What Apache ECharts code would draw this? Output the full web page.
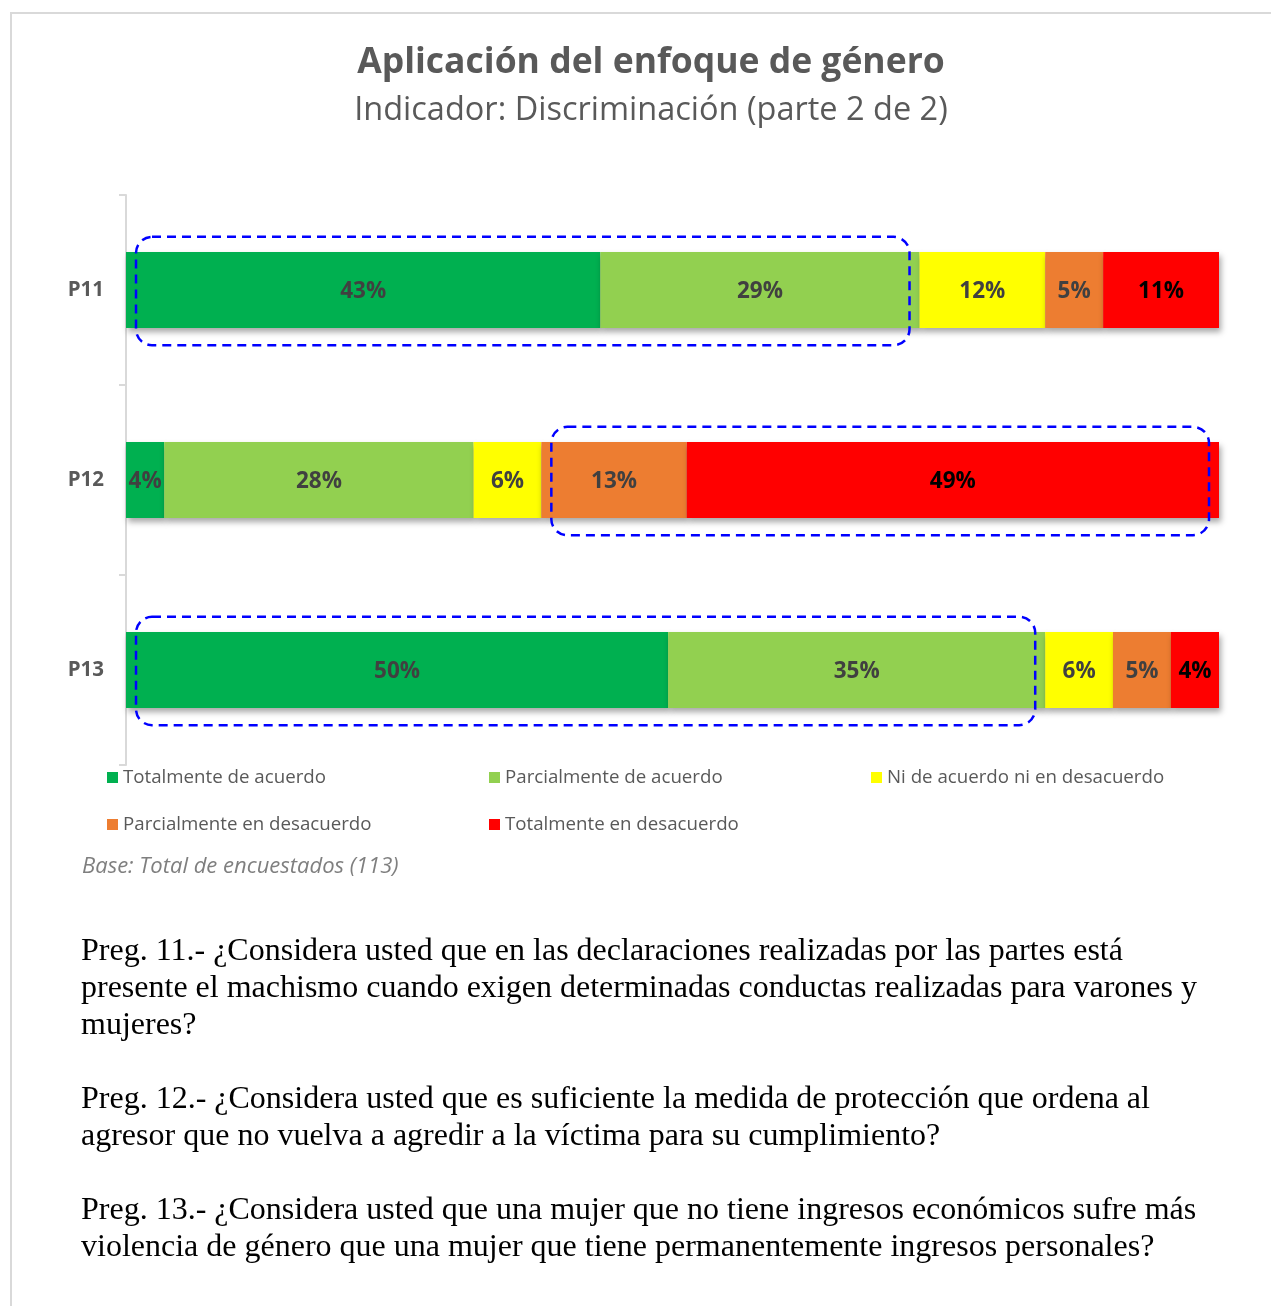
<!DOCTYPE html>
<html>
<head>
<meta charset="utf-8">
<script src="https://cdn.jsdelivr.net/npm/echarts@6/dist/echarts.min.js"></script>
<style>
html,body{margin:0;padding:0;background:#fff;}
#chart{width:1271px;height:1306px;}
</style>
</head>
<body>
<div id="chart"></div>
<script>
// ---- Data ----
const categories = ['P11', 'P12', 'P13'];
const seriesNames = [
  'Totalmente de acuerdo',
  'Parcialmente de acuerdo',
  'Ni de acuerdo ni en desacuerdo',
  'Parcialmente en desacuerdo',
  'Totalmente en desacuerdo'
];
const totalmenteAcuerdo     = [43.4, 3.5, 49.6];
const parcialmenteAcuerdo   = [29.2, 28.3, 34.5];
const niAcuerdoNiDesacuerdo = [11.5, 6.2, 6.2];
const parcialmenteDesacuerdo= [5.3, 13.3, 5.3];
const totalmenteDesacuerdo  = [10.6, 48.7, 4.4];
// highlighted groups: category index, first and last series index enclosed
const highlightGroups = [[0, 0, 1], [1, 3, 4], [2, 0, 1]];

const titleText = 'Aplicación del enfoque de género';
const subtitleText = 'Indicador: Discriminación (parte 2 de 2)';
const baseText = 'Base: Total de encuestados (113)';
const questionText = [
  'Preg. 11.- ¿Considera usted que en las declaraciones realizadas por las partes está',
  'presente el machismo cuando exigen determinadas conductas realizadas para varones y',
  'mujeres?',
  '',
  'Preg. 12.- ¿Considera usted que es suficiente la medida de protección que ordena al',
  'agresor que no vuelva a agredir a la víctima para su cumplimiento?',
  '',
  'Preg. 13.- ¿Considera usted que una mujer que no tiene ingresos económicos sufre más',
  'violencia de género que una mujer que tiene permanentemente ingresos personales?'
];

// ---- Build ----
const values = [totalmenteAcuerdo, parcialmenteAcuerdo, niAcuerdoNiDesacuerdo, parcialmenteDesacuerdo, totalmenteDesacuerdo];
const colors = ['#00B050', '#92D050', '#FFFF00', '#ED7D31', '#FF0000'];
const labelColors = ['#404040', '#404040', '#404040', '#404040', '#000000'];

const barSeries = values.map((arr, i) => ({
  name: seriesNames[i],
  type: 'bar',
  stack: 'total',
  barWidth: '40%',
  data: arr,
  itemStyle: {
    color: colors[i],
    shadowColor: 'rgba(0,0,0,0.35)',
    shadowBlur: 6,
    shadowOffsetX: 2,
    shadowOffsetY: 4
  },
  label: {
    show: true,
    position: 'inside',
    offset: [0, 2],
    formatter: p => Math.round(p.value) + '%',
    fontFamily: 'Open Sans',
    fontWeight: 'bold',
    fontSize: 22.5,
    color: labelColors[i]
  },
  emphasis: {disabled: true}
}));

const highlightData = highlightGroups.map(([c, a, b]) => {
  let start = 0;
  for (let s = 0; s < a; s++) start += values[s][c];
  let end = start;
  for (let s = a; s <= b; s++) end += values[s][c];
  return [start, end, c];
});

const highlightSeries = {
  type: 'custom',
  name: 'highlight',
  data: highlightData,
  encode: {x: [0, 1], y: 2},
  z: 10,
  silent: true,
  renderItem: function (params, api) {
    const c = api.value(2);
    const s = api.coord([api.value(0), c]);
    const e = api.coord([api.value(1), c]);
    const band = api.size([0, 1])[1];
    const h = band * 0.57;
    return {
      type: 'rect',
      shape: {x: s[0] + 10, y: s[1] - h / 2 + 1, width: e[0] - s[0] - 20, height: h, r: 16},
      style: {fill: 'none', stroke: '#0000FF', lineWidth: 2.5, lineDash: [9, 6]}
    };
  }
};

const chart = echarts.init(document.getElementById('chart'), null, {renderer: 'canvas'});
chart.setOption({
  animation: false,
  backgroundColor: '#ffffff',
  title: {
    text: titleText,
    subtext: subtitleText,
    left: 646,
    textAlign: 'center',
    top: 40,
    itemGap: 13,
    textStyle: {fontFamily: 'Open Sans', fontWeight: 'bold', fontSize: 35.5, color: '#595959'},
    subtextStyle: {fontFamily: 'Open Sans', fontSize: 32.5, color: '#595959'}
  },
  legend: {
    data: seriesNames,
    left: 102,
    top: 749,
    width: 1160,
    itemGap: 0,
    itemWidth: 11,
    itemHeight: 11,
    icon: 'rect',
    textStyle: {fontFamily: 'Open Sans', fontSize: 18.7, color: '#595959', width: 366, lineHeight: 47, overflow: 'none'}
  },
  grid: {left: 126, right: 52, top: 195, bottom: 541, containLabel: false},
  xAxis: {
    type: 'value', min: 0, max: 100,
    show: false
  },
  yAxis: {
    type: 'category',
    data: categories,
    inverse: true,
    axisLine: {show: true, lineStyle: {color: '#D9D9D9', width: 2}},
    axisTick: {show: true, length: 7, lineStyle: {color: '#D9D9D9', width: 2}},
    axisLabel: {fontFamily: 'Open Sans', fontWeight: 'bold', fontSize: 20.5, color: '#595959', margin: 22}
  },
  graphic: [
    {type: 'rect', z: -1, silent: true, shape: {x: 11, y: 13, width: 1300, height: 1400},
     style: {fill: 'none', stroke: '#D9D9D9', lineWidth: 2}},
    {type: 'text', left: 82, top: 856, style: {text: baseText, font: 'italic 22px "Open Sans"', fill: '#7F7F7F'}},
    {type: 'text', left: 81, top: 933, style: {text: questionText.join('\n'), font: '32px "Liberation Serif"', lineHeight: 37, fill: '#000000'}}
  ],
  series: barSeries.concat([highlightSeries])
});
</script>
</body>
</html>
